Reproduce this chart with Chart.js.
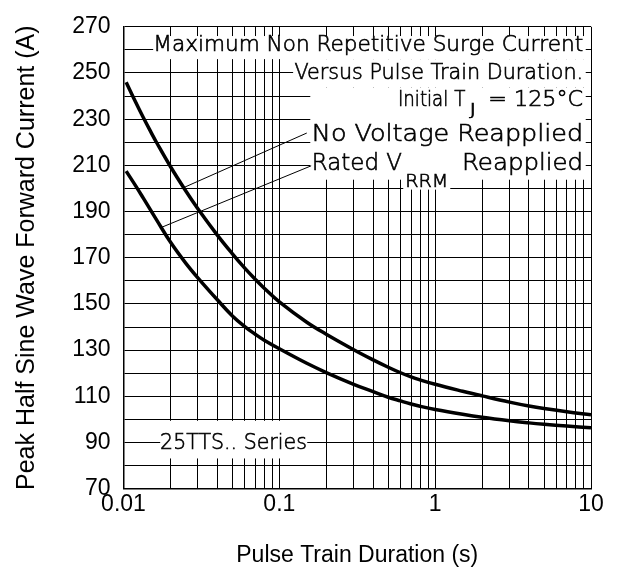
<!DOCTYPE html>
<html>
<head>
<meta charset="utf-8">
<script src="https://cdn.jsdelivr.net/npm/chart.js@4.4.1/dist/chart.umd.min.js"></script>
<style>
  html, body { margin: 0; padding: 0; background: #fff; }
  #surge { display: block; }
</style>
</head>
<body>
<canvas id="surge" width="620" height="569"></canvas>
<script>
// ---- data ----
const durations = [0.0104, 0.012, 0.0134, 0.015, 0.0163, 0.02, 0.025, 0.03, 0.04, 0.05, 0.06, 0.07, 0.08, 0.1,
    0.15, 0.2, 0.3, 0.4, 0.5, 0.6, 0.7, 0.8, 1, 1.5, 2, 3, 4, 5, 7, 10]
const noVoltage = [246, 237.2, 230.7, 224.4, 219.9, 209.5, 199.1, 191.2, 179.8, 171.7, 165.5, 160.7, 156.8, 150.9,
    142.1, 136.9, 130.2, 125.8, 122.6, 120.2, 118.4, 117.1, 115.2, 112.2, 110.2, 107.5, 105.8, 104.7, 103.3, 102.0]
const ratedVrrm = [207.5, 201.0, 195.8, 190.4, 186.4, 176.8, 167.8, 161.3, 151.8, 144.8, 140.2, 136.9, 134.3, 130.6,
    124.3, 120.3, 115.2, 112.0, 109.6, 108.0, 106.7, 105.7, 104.3, 102.2, 100.9, 99.4, 98.5, 97.9, 97.1, 96.4]

const xDecades = [0.01, 0.1, 1, 10]
const xLabels = ['0.01', '0.1', '1', '10']
const yLabels = [70, 90, 110, 130, 150, 170, 190, 210, 230, 250, 270]

// ---- annotation layout (data coordinates) ----
const whiteBoxes = [
    { x0: 0.0155, x1: 9.25, y0: 266, y1: 256 },
    { x0: 0.1226, x1: 9.25, y0: 256, y1: 243.7 },
    { x0: 0.158, x1: 9.25, y0: 243.7, y1: 203.8 },
    { x0: 0.624, x1: 1.25, y0: 203.8, y1: 199.5 },
    { x0: 0.0172, x1: 0.151, y0: 99.4, y1: 83.1 },
]
// text, left x, right x, y, font size
const notes = [
    ['Maximum Non Repetitive Surge Current', 0.01554, 8.9, 261.7, 20.5],
    ['Versus Pulse Train Duration.', 0.125, 8.9, 249.7, 20.5],
    ['Initial T', 0.5768, 1.56, 238.1, 20.5],
    ['J', 1.656, 1.837, 233.6, 15],
    ['= 125°C', 2.193, 8.9, 238.1, 20.5],
    ['No Voltage Reapplied', 0.1617, 8.9, 223.3, 23],
    ['Rated V', 0.1617, 0.612, 210.6, 23],
    ['RRM', 0.6427, 1.214, 202.5, 17],
    ['Reapplied', 1.486, 8.9, 210.6, 23],
    ['25TTS.. Series', 0.01716, 0.1502, 89.6, 22],
]
const leaderNoVolt = [{ x: 0.0242, y: 200.3 }, { x: 0.15, y: 224 }]
const leaderRated = [{ x: 0.0176, y: 183.2 }, { x: 0.16, y: 209.8 }]

// grid positions 1..9 per decade
const xGrid = []
xDecades.slice(0, 3).forEach(d => {
    for (let m = 1; m < 10; m++) xGrid.push(+(d * m).toPrecision(3))
})
xGrid.push(10)

const NOTE_FONT = '"DejaVu Sans", sans-serif'
const AXIS_FONT = '"Liberation Sans", Arial, sans-serif'

const notesPlugin = {
    id: 'notes',
    beforeDatasetsDraw(chart) {
        const ctx = chart.ctx
        const xs = chart.scales.x, ys = chart.scales.y
        const px = v => xs.getPixelForValue(v)
        const py = v => ys.getPixelForValue(v)
        ctx.save()
        ctx.fillStyle = '#fff'
        whiteBoxes.forEach(b => {
            ctx.fillRect(px(b.x0), py(b.y0), px(b.x1) - px(b.x0), py(b.y1) - py(b.y0))
        })
        ctx.fillStyle = '#000'
        ctx.strokeStyle = '#000'
        ctx.lineWidth = 0.6
        ctx.textBaseline = 'middle'
        ctx.textAlign = 'left'
        notes.forEach(([txt, x0, x1, y, size]) => {
            ctx.font = '200 ' + size + 'px ' + NOTE_FONT
            const w = ctx.measureText(txt).width
            const target = px(x1) - px(x0)
            ctx.save()
            ctx.translate(px(x0), py(y))
            ctx.scale(target / w, 1)
            ctx.fillText(txt, 0, 0)
            ctx.strokeText(txt, 0, 0)
            ctx.restore()
        })
        ctx.restore()
    }
}

const ctx = document.getElementById('surge')
const surgeChart = new Chart(ctx, {
    type: 'line',
    data: {
        datasets: [{
            label: 'No Voltage Reapplied',
            data: durations.map((d, i) => ({ x: d, y: noVoltage[i] })),
            borderColor: '#000',
            borderWidth: 3.5,
            pointRadius: 0,
            tension: 0.4,
        }, {
            label: 'Rated VRRM Reapplied',
            data: durations.map((d, i) => ({ x: d, y: ratedVrrm[i] })),
            borderColor: '#000',
            borderWidth: 3.5,
            pointRadius: 0,
            tension: 0.4,
        }, {
            label: 'leader1',
            data: leaderNoVolt,
            borderColor: '#000',
            borderWidth: 1,
            pointRadius: 0,
        }, {
            label: 'leader2',
            data: leaderRated,
            borderColor: '#000',
            borderWidth: 1,
            pointRadius: 0,
        }]
    },
    options: {
        responsive: false,
        animation: false,
        devicePixelRatio: 1,
        layout: { padding: { top: 23, right: 29, left: 0, bottom: 0 } },
        plugins: { legend: { display: false }, tooltip: { enabled: false } },
        scales: {
            x: {
                type: 'logarithmic',
                min: 0.01,
                max: 10,
                afterBuildTicks: scale => { scale.ticks = xGrid.map(v => ({ value: v })) },
                afterFit: scale => { scale.height = 80.3 },
                grid: { color: '#000', lineWidth: 1, drawTicks: false },
                border: { color: '#000', width: 1.5 },
                ticks: {
                    autoSkip: false,
                    maxRotation: 0,
                    padding: 2,
                    color: '#000',
                    font: { family: AXIS_FONT, size: 23 },
                    callback: v => {
                        const k = xDecades.findIndex(d => Math.abs(d - v) < d * 1e-6)
                        return k >= 0 ? xLabels[k] : ''
                    }
                },
                title: {
                    display: true,
                    text: 'Pulse Train Duration (s)',
                    color: '#000',
                    font: { family: AXIS_FONT, size: 23 },
                    padding: { top: 0, bottom: 0 }
                }
            },
            y: {
                min: 70,
                max: 270,
                afterFit: scale => { scale.width = 123.5 },
                grid: { color: '#000', lineWidth: 1, drawTicks: false },
                border: { color: '#000', width: 1.5 },
                ticks: {
                    stepSize: 10,
                    autoSkip: false,
                    padding: 13,
                    color: '#000',
                    font: { family: AXIS_FONT, size: 23 },
                    callback: v => yLabels.includes(v) ? String(v) : ''
                },
                title: {
                    display: true,
                    text: 'Peak Half Sine Wave Forward Current (A)',
                    color: '#000',
                    font: { family: AXIS_FONT, size: 25 },
                    padding: { top: 12, bottom: 0 }
                }
            }
        }
    },
    plugins: [notesPlugin]
});
</script>
</body>
</html>
